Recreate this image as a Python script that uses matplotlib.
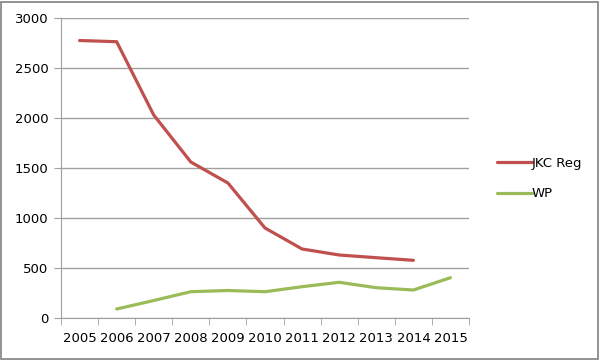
import matplotlib.pyplot as plt
from matplotlib.patches import Rectangle
import numpy as np

years = ['2005', '2006', '2007', '2008', '2009', '2010',
         '2011', '2012', '2013', '2014', '2015']
jkc_reg = [2775, 2763, 2030, 1560, 1350, 900, 690, 630, 603, 577, np.nan]
wp = [np.nan, 90, 175, 263, 275, 263, 313, 357, 303, 280, 403]

red = '#C0504D'
green = '#9BBB59'
grey = '#A0A0A0'

fig = plt.figure(figsize=(6.01, 3.61), dpi=100)
ax = fig.add_axes([0.1015, 0.1191, 0.6789, 0.831])

x = np.arange(len(years))
ax.plot(x, jkc_reg, color=red, lw=2.3, label='JKC Reg', solid_capstyle='round')
ax.plot(x, wp, color=green, lw=2.3, label='WP', solid_capstyle='round')

ax.set_xlim(-0.5, len(years) - 0.5)
ax.set_ylim(0, 3000)
ax.set_yticks(np.arange(0, 3001, 500))
ax.yaxis.grid(True, color=grey, lw=1)
ax.set_axisbelow(True)

ax.set_xticks(x)
ax.set_xticklabels(years)
ax.set_xticks(np.arange(-0.5, len(years)), minor=True)
ax.tick_params(axis='x', which='major', length=0, pad=10, labelsize=9.5)
ax.tick_params(axis='x', which='minor', length=5, color=grey, direction='out')
ax.tick_params(axis='y', length=5, color=grey, labelsize=9.5, pad=4)

for s in ['top', 'right']:
    ax.spines[s].set_visible(False)
for s in ['left', 'bottom']:
    ax.spines[s].set_color(grey)

ax.legend(loc='center left', bbox_to_anchor=(1.04, 0.465), frameon=False,
          handlelength=2.6, handletextpad=0.0, labelspacing=1.35, fontsize=9.5)

fig.patches.append(Rectangle((0.002, 0.006), 0.993, 0.988, transform=fig.transFigure,
                             fill=False, edgecolor='#808080', lw=1.2))

fig.savefig('out.png', dpi=100)
